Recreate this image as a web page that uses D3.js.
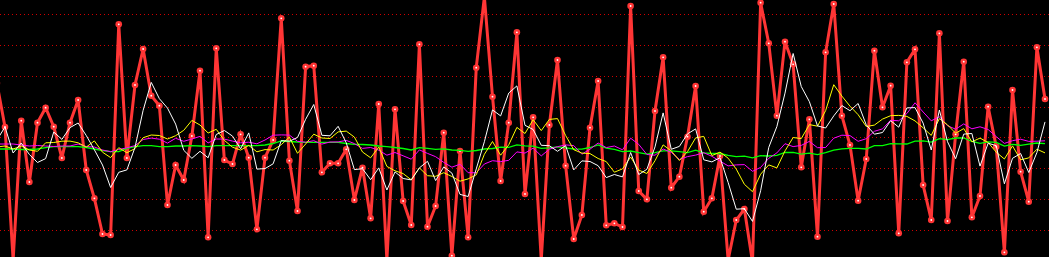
<!DOCTYPE html>
<html>
<head>
<meta charset="utf-8">
<script src="https://cdn.jsdelivr.net/npm/d3@7"></script>
<style>
  html, body { margin: 0; padding: 0; background: #000; overflow: hidden; }
  svg { display: block; }
</style>
</head>
<body>
<svg id="chart" width="1049" height="257"></svg>
<script>
// first visible sample index (one sample sits just left of the frame)
var firstIndex = -1;

var price = [174, 130, -3, 136.3, 75, 134.3, 149.3, 130.3, 99, 134.3,
  157, 87, 58.7, 23, 22, 232.7, 99, 172, 208, 161.3,
  151.3, 52, 92, 77, 121, 186.3, 19.7, 208.7, 97, 93,
  122.7, 99.3, 27.7, 99.3, 117, 238.7, 96.3, 46, 190.3, 191.3,
  84.7, 93.7, 93.7, 107.7, 57, 89.3, 38.7, 153, -3, 147.7,
  56, 32, 212.7, 30.3, 51, 124.3, 1.3, 106, 19.7, 189.3,
  260, 160.3, 76, 134.3, 224.7, 63, 139.7, -3, 132, 197,
  91.3, 18, 42, 129.3, 176, 31.7, 33.7, 30, 251, 66,
  57.7, 146, 199.7, 69.3, 80.3, 120.3, 171, 45.3, 58.7, 101,
  -3, 37, 48, -5, 254.3, 213.7, 141.3, 215.3, 192.7, 89.7,
  137.7, 20.3, 204.7, 253, 141.3, 112, 56.3, 98, 206.3, 149.7,
  171.3, 23.7, 194.7, 207.7, 72, 37, 223.7, 36, 122.7, 195.3,
  39.7, 61, 150.3, 110.3, 4.7, 167, 85.3, 55.3, 209.7, 158];

var ma5 = [117, 130, 104, 114, 102.5, 94.5, 98.4, 125, 117.6, 129.4,
  134, 121.5, 107.2, 92, 69.5, 84.7, 87.1, 109.7, 146.7, 174.6,
  158.3, 148.9, 132.9, 106.7, 98.7, 105.7, 99.2, 122.5, 126.5, 120.9,
  108.2, 124.1, 87.9, 88.4, 93.2, 116.4, 115.8, 119.5, 137.7, 152.5,
  121.7, 121.2, 130.7, 114.2, 87.4, 88.3, 77.3, 89.1, 67, 85.1,
  78.5, 77.1, 89.1, 95.7, 76.4, 90.1, 83.9, 62.6, 60.5, 88.1,
  115.3, 147.1, 141.1, 164, 171.1, 131.7, 127.5, 111.7, 111.3, 105.7,
  111.4, 87.1, 96.1, 95.5, 91.3, 79.4, 82.5, 80.1, 104.5, 82.5,
  87.7, 110.1, 144.1, 107.7, 110.6, 123.1, 128.1, 97.2, 95.1, 99.3,
  74.6, 47.8, 48.3, 35.6, 66.3, 109.6, 130.5, 163.9, 203.5, 170.5,
  155.3, 131.1, 129, 141.1, 151.4, 146.3, 153.5, 132.1, 122.8, 124.5,
  136.3, 129.8, 149.1, 149.4, 133.9, 107, 147, 115.3, 98.3, 122.9,
  123.5, 90.9, 113.8, 111.3, 73.2, 98.7, 103.5, 84.5, 104.4, 135.1];

var ma10 = [110, 111, 108, 111, 107, 105.7, 114.2, 114.5, 115.8, 115.9,
  114.2, 109.9, 116.1, 104.8, 99.4, 109.3, 104.3, 108.4, 119.3, 122,
  121.5, 118, 121.3, 126.7, 136.6, 132, 124, 127.7, 116.6, 109.8,
  106.9, 111.6, 105.2, 107.4, 107, 112.3, 119.9, 103.7, 113, 122.8,
  119, 118.5, 125.1, 125.9, 119.9, 105, 99.2, 109.9, 90.6, 86.2,
  83.4, 77.2, 89.1, 81.3, 80.7, 84.3, 80.5, 75.8, 78.1, 82.2,
  102.7, 115.5, 101.8, 112.2, 129.6, 123.5, 137.3, 126.4, 137.6, 138.4,
  121.5, 107.3, 103.9, 103.4, 98.5, 95.4, 84.8, 88.1, 100, 86.9,
  83.5, 96.3, 112.1, 106.1, 96.5, 105.4, 119.1, 120.6, 101.4, 104.9,
  98.8, 87.9, 72.7, 65.3, 82.8, 92.1, 89.1, 106.1, 119.5, 118.4,
  132.4, 130.8, 146.4, 172.3, 160.9, 150.8, 142.3, 130.5, 131.9, 137.9,
  141.3, 141.6, 140.6, 136.1, 129.2, 121.6, 138.4, 132.2, 123.8, 128.4,
  115.2, 118.9, 114.5, 104.8, 98, 111.1, 97.2, 99.1, 107.8, 104.1];

var ma20 = [113, 113, 113, 112, 111, 111.5, 111, 110.5, 111, 111,
  113, 110.5, 110, 107, 105.3, 107.5, 109.2, 111.4, 117.5, 118.9,
  117.8, 113.9, 118.7, 115.7, 118, 120.6, 114.1, 118, 117.9, 115.9,
  114.2, 114.8, 113.2, 117, 121.8, 122.1, 121.9, 115.7, 114.8, 116.3,
  112.9, 115, 115.1, 116.6, 113.4, 108.6, 109.5, 106.8, 101.8, 104.5,
  101.2, 97.8, 107.1, 103.6, 100.3, 94.6, 89.8, 92.8, 84.3, 84.2,
  93, 96.3, 95.4, 96.7, 105.1, 103.9, 108.9, 101.1, 107.8, 110.3,
  112.1, 111.4, 102.8, 107.8, 114, 109.4, 111, 107.2, 118.8, 112.6,
  102.5, 101.8, 108, 104.7, 97.5, 100.4, 101.9, 104.3, 100.7, 95.9,
  91.1, 92.1, 92.4, 85.7, 89.6, 98.7, 104.1, 113.3, 110.4, 111.6,
  115.6, 109.3, 109.5, 118.8, 121.8, 121.4, 115.7, 118.3, 125.7, 128.1,
  136.8, 136.2, 143.5, 154.2, 145, 136.2, 140.3, 131.3, 127.8, 133.1,
  128.2, 130.2, 127.5, 120.4, 113.6, 116.3, 117.8, 115.6, 115.8, 116.2];

var ma60 = [108, 108, 108, 107.5, 107.5, 108, 109.3, 110.3, 110.3, 110.3,
  110.3, 109.5, 108, 106.5, 105.3, 105.3, 108.7, 110.3, 111.3, 111.3,
  110.3, 110.3, 111, 111, 111.3, 111, 110.3, 111.3, 111.3, 111.3,
  111.3, 111.3, 111.3, 112, 113.5, 116, 115.5, 115, 114.7, 114.7,
  114.7, 114.7, 114.7, 113.5, 112.7, 112.5, 112, 111, 110.3, 109.5,
  108.5, 107, 109.3, 108.7, 107.7, 108.1, 107, 106.7, 105.6, 106.5,
  108, 108.5, 109.8, 109.7, 112.2, 111.1, 110.9, 108.7, 109.2, 110.2,
  109.2, 108, 107.8, 109.5, 112, 108.8, 107.6, 105.3, 106, 104.3,
  102.9, 104.4, 106.2, 106.1, 105.3, 104.4, 106.8, 104.1, 103.5, 103.5,
  101.6, 100.4, 100.8, 99.1, 101.3, 101, 101.6, 104.5, 104.6, 102.8,
  103.8, 102.4, 104.4, 106.8, 108.1, 108.6, 108.7, 108, 111.4, 111.4,
  113.4, 113.1, 113, 115.9, 116.2, 114.8, 118.4, 117.4, 119, 119.1,
  115.5, 113.7, 115.1, 114.6, 110.9, 112.7, 111.7, 112.8, 114, 113.4];

var gridValues = [26.5, 57.3, 88.2, 119.1, 149.9, 180.8, 211.6, 242.5];

var svg = d3.select("#chart"),
  width = +svg.attr("width"),
  height = +svg.attr("height");

svg.append("rect")
  .attr("width", width)
  .attr("height", height)
  .attr("fill", "#000");

var x = d3.scaleLinear()
  .domain([0, 128])
  .range([5, 1045]);

var y = d3.scaleLinear()
  .domain([0, 257])
  .range([257, 0]);

function idx(i) { return i + firstIndex; }

// dotted grid
svg.append("g")
  .selectAll("line")
  .data(gridValues)
  .join("line")
  .attr("x1", 0)
  .attr("x2", width)
  .attr("y1", function (d) { return Math.floor(y(d)) + 0.5; })
  .attr("y2", function (d) { return Math.floor(y(d)) + 0.5; })
  .attr("stroke", "#d00000")
  .attr("stroke-width", 1)
  .attr("stroke-dasharray", "1,3")
  .attr("shape-rendering", "crispEdges");

var line = d3.line()
  .x(function (d, i) { return x(idx(i)); })
  .y(function (d) { return y(d); });

// raw series
svg.append("path")
  .datum(price)
  .attr("d", line)
  .attr("fill", "none")
  .attr("stroke", "#ff3535")
  .attr("stroke-width", 3)
  .attr("stroke-linejoin", "miter");

var dots = svg.append("g")
  .selectAll("g")
  .data(price)
  .join("g")
  .attr("transform", function (d, i) { return "translate(" + x(idx(i)) + "," + y(d) + ")"; });

dots.append("circle")
  .attr("r", 3.3)
  .attr("fill", "#ff3535");

dots.append("circle")
  .attr("r", 0.9)
  .attr("fill", "#fff");

// averages on top
var averages = [
  { values: ma60, color: "#00ff00", w: 1.3 },
  { values: ma20, color: "#ff00ff", w: 1 },
  { values: ma10, color: "#ffff00", w: 1 },
  { values: ma5, color: "#ffffff", w: 1 }
];

svg.append("g")
  .selectAll("path")
  .data(averages)
  .join("path")
  .attr("d", function (d) { return line(d.values); })
  .attr("fill", "none")
  .attr("stroke", function (d) { return d.color; })
  .attr("stroke-width", function (d) { return d.w; });
</script>
</body>
</html>
